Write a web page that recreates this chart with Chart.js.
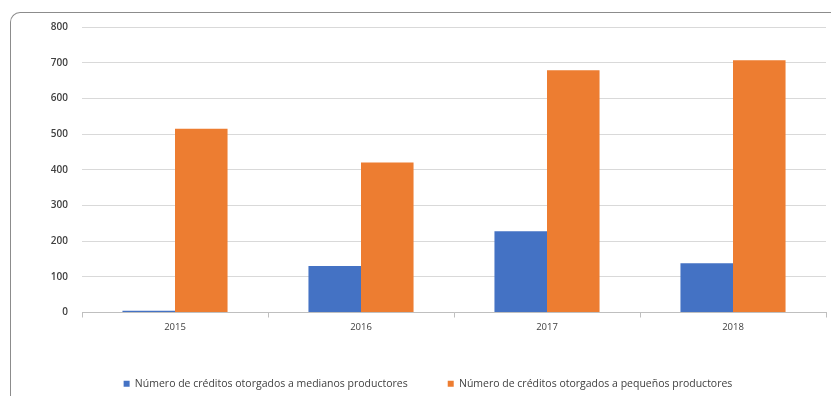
<!DOCTYPE html>
<html>
<head>
<meta charset="utf-8">
<script src="https://cdn.jsdelivr.net/npm/chart.js@4"></script>
<style>
  html, body { margin: 0; padding: 0; background: #fff; overflow: hidden; }
  #wrap { position: relative; width: 831px; height: 397px; }
  #frame { position: absolute; left: 10px; top: 12px; width: 900px; height: 383px;
           border-left: 1.5px solid #8c8c8c; border-top: 1.5px solid #8c8c8c;
           border-top-left-radius: 10px; }
  canvas { position: absolute; left: 0; top: 0; }
</style>
</head>
<body>
<div id="wrap">
  <div id="frame"></div>
  <canvas id="chart" width="831" height="397"></canvas>
</div>
<script>
const years = ['2015', '2016', '2017', '2018'];
const medianos = [5, 130, 228, 138];
const pequenos = [515, 420, 679, 707];
const yTicks = [0, 100, 200, 300, 400, 500, 600, 700, 800];

const labelFont = "'Open Sans', 'DejaVu Sans', sans-serif";

const ctx = document.getElementById('chart').getContext('2d');
new Chart(ctx, {
    type: 'bar',
    data: {
        labels: years,
        datasets: [
            {
                label: 'Número de créditos otorgados a medianos productores',
                data: medianos,
                backgroundColor: '#4472C4',
                borderWidth: 0
            },
            {
                label: 'Número de créditos otorgados a pequeños productores',
                data: pequenos,
                backgroundColor: '#ED7D31',
                borderWidth: 0
            }
        ]
    },
    options: {
        responsive: false,
        animation: false,
        layout: { padding: { left: 30, right: 5, top: 27, bottom: -2 } },
        datasets: {
            bar: { categoryPercentage: 0.565, barPercentage: 1.0 }
        },
        plugins: {
            tooltip: { enabled: false },
            legend: {
                position: 'bottom',
                labels: {
                    boxWidth: 6,
                    boxHeight: 6,
                    padding: 40,
                    color: '#404040',
                    font: { family: labelFont, size: 10.5 }
                }
            }
        },
        scales: {
            x: {
                afterFit: (scale) => { scale.height = 26; },
                grid: {
                    offset: true,
                    drawOnChartArea: false,
                    drawTicks: true,
                    tickLength: 5,
                    color: '#bfbfbf'
                },
                border: { display: true, color: '#bfbfbf', width: 1 },
                ticks: {
                    padding: 4,
                    color: '#404040',
                    font: { family: labelFont, size: 9.5 }
                }
            },
            y: {
                min: 0,
                max: 800,
                afterFit: (scale) => { scale.width = 52; },
                afterBuildTicks: (scale) => { scale.ticks = yTicks.map(v => ({ value: v })); },
                grid: { color: '#d9d9d9', drawTicks: false },
                border: { display: false },
                ticks: {
                    padding: 14,
                    color: '#404040',
                    font: { family: labelFont, size: 10, weight: '600' }
                }
            }
        }
    }
});
</script>
</body>
</html>
